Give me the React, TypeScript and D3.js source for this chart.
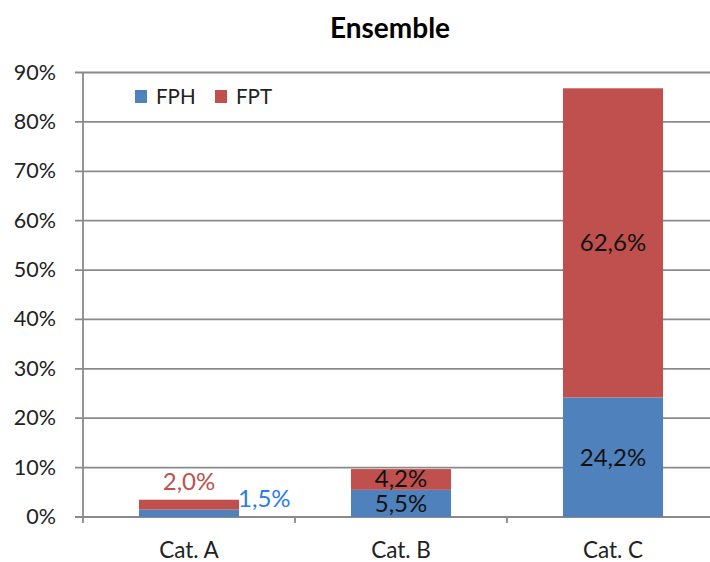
import React from "react"
import * as d3 from "d3"

const categories = ["Cat. A", "Cat. B", "Cat. C"]
const fph = [1.5, 5.5, 24.2]
const fpt = [2.0, 4.2, 62.6]
const yTicks = [0, 10, 20, 30, 40, 50, 60, 70, 80, 90]

const BLUE = "#4f81bd"
const RED = "#c0504d"
const GRID = "#8a8a8a"
const FONT = "Lato, 'Open Sans', sans-serif"

const fmt = (v: number) => v.toFixed(1).replace(".", ",") + "%"

const App: React.FC = () => {
  const width = 710
  const height = 562
  const left = 83

  const x = d3
    .scaleBand<string>()
    .domain(categories)
    .range([left, left + 3 * 212])
    .paddingInner(0.528)
    .paddingOuter(0.264)

  const y = d3.scaleLinear().domain([0, 90]).range([517, 72.5])

  const step = x.step()
  const bounds = d3.range(categories.length + 1).map((i) => left + i * step)

  return (
    <svg
      width={width}
      height={height}
      style={{ position: "absolute", left: 0, top: 0, background: "#fff" }}
      fontFamily={FONT}
    >
      <text x={390} y={38} textAnchor="middle" fontSize={28} fontWeight="bold" fill="#000">
        Ensemble
      </text>

      {/* gridlines + y ticks */}
      {yTicks.map((t) => (
        <g key={t}>
          <line x1={75} x2={width} y1={y(t)} y2={y(t)} stroke={GRID} strokeWidth={1.8} />
          <text x={56} y={y(t) + 7} textAnchor="end" fontSize={21.5} fill="#222">
            {t}%
          </text>
        </g>
      ))}
      <line x1={left} x2={left} y1={y(90)} y2={y(0)} stroke={GRID} strokeWidth={1.8} />

      {/* category ticks */}
      {bounds.map((b, i) => (
        <line key={i} x1={b} x2={b} y1={y(0)} y2={y(0) + 6} stroke={GRID} strokeWidth={1.8} />
      ))}

      {/* bars */}
      {categories.map((c, i) => {
        const bx = x(c)!
        const bw = x.bandwidth()
        const yFph = y(fph[i])
        const yTop = y(fph[i] + fpt[i])
        return (
          <g key={c}>
            <rect x={bx} y={yFph} width={bw} height={y(0) - yFph} fill={BLUE} />
            <rect x={bx} y={yTop} width={bw} height={yFph - yTop} fill={RED} />
          </g>
        )
      })}

      {/* data labels */}
      {categories.map((c, i) => {
        const cx = x(c)! + x.bandwidth() / 2
        const yFph = y(fph[i])
        const yTop = y(fph[i] + fpt[i])
        const thinFph = y(0) - yFph < 20
        const thinFpt = yFph - yTop < 20
        return (
          <g key={c} fontSize={24}>
            {thinFph ? (
              <text x={x(c)! + x.bandwidth() - 1} y={yFph - 3} fill="#2b7bf0">
                {fmt(fph[i])}
              </text>
            ) : (
              <text x={cx} y={(y(0) + yFph) / 2 + 9} textAnchor="middle" fill="#111">
                {fmt(fph[i])}
              </text>
            )}
            {thinFpt ? (
              <text x={cx} y={yTop - 10} textAnchor="middle" fill={RED}>
                {fmt(fpt[i])}
              </text>
            ) : (
              <text x={cx} y={(yFph + yTop) / 2 + 8} textAnchor="middle" fill="#111">
                {fmt(fpt[i])}
              </text>
            )}
          </g>
        )
      })}

      {/* category labels */}
      {categories.map((c) => (
        <text key={c} x={x(c)! + x.bandwidth() / 2} y={558} textAnchor="middle" fontSize={22.5} fill="#222">
          {c}
        </text>
      ))}

      {/* legend */}
      <rect x={135} y={90} width={12} height={13} fill={BLUE} />
      <text x={156} y={104} fontSize={20.5} fill="#222">FPH</text>
      <rect x={215} y={90} width={12} height={13} fill={RED} />
      <text x={236} y={104} fontSize={20.5} fill="#222">FPT</text>
    </svg>
  )
}

export default App
